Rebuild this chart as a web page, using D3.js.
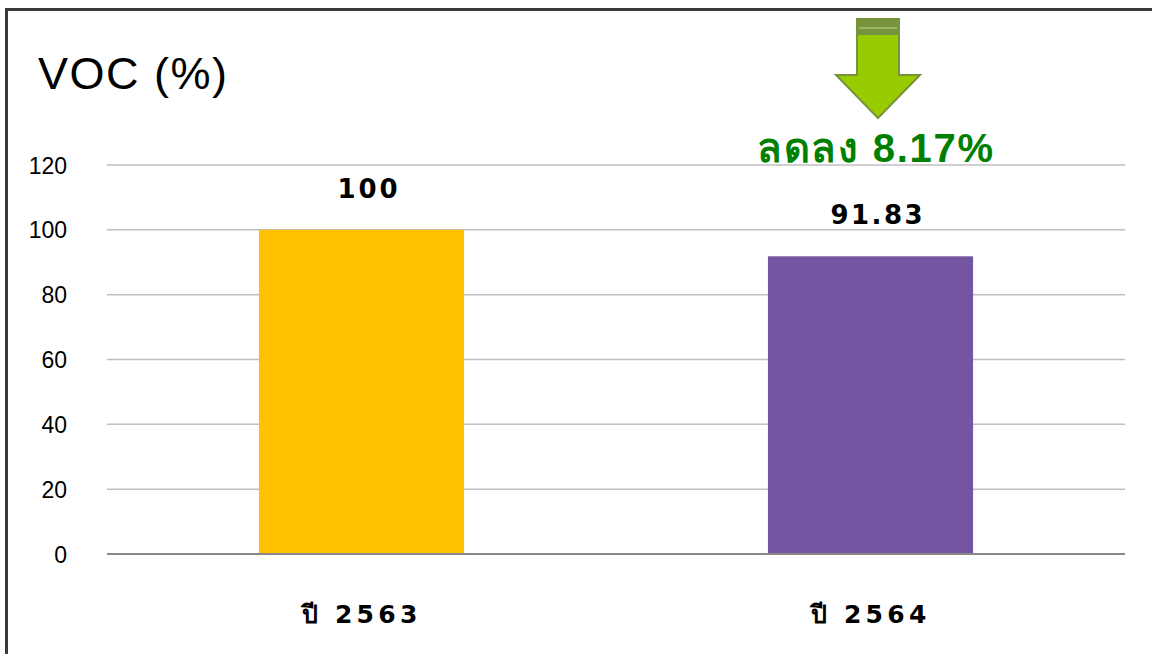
<!DOCTYPE html>
<html><head><meta charset="utf-8">
<script src="https://cdn.jsdelivr.net/npm/d3@7"></script>
<style>
html,body{margin:0;padding:0;background:#fff;}
svg{display:block;}
</style></head>
<body>
<svg id="c" width="1152" height="654"></svg>
<script>
const categories = ["ปี 2563", "ปี 2564"];
const values = [100, 91.83];
const valueLabels = ["100", "91.83"];
const barColors = ["#FFC000", "#7455A2"];
const yTicks = [0, 20, 40, 60, 80, 100, 120];
const titleText = "VOC (%)";
const changeText = "ลดลง 8.17%";

const svg = d3.select("#c");
const W = 1152, H = 654;
const m = {left: 107, right: 1125, top: 165, bottom: 554};

const x = d3.scaleBand().domain(categories).range([m.left, m.right])
  .paddingInner(0.597).paddingOuter(0.2985);
const y = d3.scaleLinear().domain([0, 120]).range([m.bottom, m.top]);

// frame
svg.append("line").attr("x1", 5).attr("x2", W).attr("y1", 9.5).attr("y2", 9.5)
  .attr("stroke", "#3a3a3a").attr("stroke-width", 3);
svg.append("line").attr("x1", 6.5).attr("x2", 6.5).attr("y1", 8).attr("y2", H)
  .attr("stroke", "#3a3a3a").attr("stroke-width", 3);

// gridlines
svg.append("g").selectAll("line").data(yTicks.filter(d => d > 0)).join("line")
  .attr("x1", m.left).attr("x2", m.right)
  .attr("y1", d => y(d)).attr("y2", d => y(d))
  .attr("stroke", "#c0c0c0").attr("stroke-width", 1.5);

// y axis labels
const yAxis = d3.axisLeft(y).tickValues(yTicks).tickSize(0).tickPadding(0);
const yg = svg.append("g").attr("transform", "translate(67,0)").call(yAxis);
yg.select(".domain").remove();
yg.selectAll("text").attr("font-family", "Liberation Sans, Arial, sans-serif")
  .attr("font-size", 23).attr("fill", "#000").attr("dy", "0.35em");

// bars
svg.append("g").selectAll("rect").data(values).join("rect")
  .attr("x", (d, i) => x(categories[i]))
  .attr("width", x.bandwidth())
  .attr("y", d => y(d))
  .attr("height", d => y(0) - y(d))
  .attr("fill", (d, i) => barColors[i]);

// baseline
svg.append("line").attr("x1", m.left).attr("x2", m.right)
  .attr("y1", y(0)).attr("y2", y(0))
  .attr("stroke", "#888").attr("stroke-width", 2);

// value labels
const vlW = [60, 92];
svg.append("g").selectAll("text").data(values).join("text")
  .attr("x", (d, i) => x(categories[i]) + x.bandwidth() / 2 + 6)
  .attr("y", d => y(d) - 32)
  .attr("text-anchor", "middle")
  .attr("font-family", "DejaVu Sans, Verdana, sans-serif")
  .attr("font-weight", "bold").attr("font-size", 26)
  .attr("textLength", (d, i) => vlW[i]).attr("lengthAdjust", "spacing")
  .text((d, i) => valueLabels[i]);

// x labels
svg.append("g").selectAll("text").data(categories).join("text")
  .attr("x", d => x(d) + x.bandwidth() / 2 - 2)
  .attr("y", 623)
  .attr("text-anchor", "middle")
  .attr("font-family", "DejaVu Sans, Verdana, sans-serif")
  .attr("font-weight", "bold").attr("font-size", 25)
  .attr("textLength", 116).attr("lengthAdjust", "spacing")
  .text(d => d);

// title
svg.append("text").attr("x", 38).attr("y", 89)
  .attr("font-family", "Liberation Sans, Arial, sans-serif")
  .attr("font-size", 45)
  .attr("textLength", 189).attr("lengthAdjust", "spacing")
  .text(titleText);

// arrow annotation
const ax = 878;
const arrow = svg.append("g");
arrow.append("path")
  .attr("d", `M${ax-21},19 L${ax+21},19 L${ax+21},75 L${ax+42},75 L${ax},118 L${ax-42},75 L${ax-21},75 Z`)
  .attr("fill", "#99CC00").attr("stroke", "#77933C").attr("stroke-width", 2)
  .attr("stroke-linejoin", "miter");
arrow.append("rect").attr("x", ax-21).attr("y", 19).attr("width", 42).attr("height", 16)
  .attr("fill", "#77933C");
arrow.append("line").attr("x1", ax-19).attr("x2", ax+19).attr("y1", 28).attr("y2", 28)
  .attr("stroke", "#a9c46a").attr("stroke-width", 1.5);
arrow.append("rect").attr("x", ax-17).attr("y", 35).attr("width", 34).attr("height", 3)
  .attr("fill", "#99CC00");

svg.append("text").attr("x", 875).attr("y", 162)
  .attr("text-anchor", "middle")
  .attr("font-family", "Liberation Sans, Noto Sans, DejaVu Sans, sans-serif")
  .attr("font-weight", "bold").attr("font-size", 40)
  .attr("fill", "#008000")
  .attr("textLength", 236).attr("lengthAdjust", "spacing")
  .text(changeText);
</script>
</body></html>
